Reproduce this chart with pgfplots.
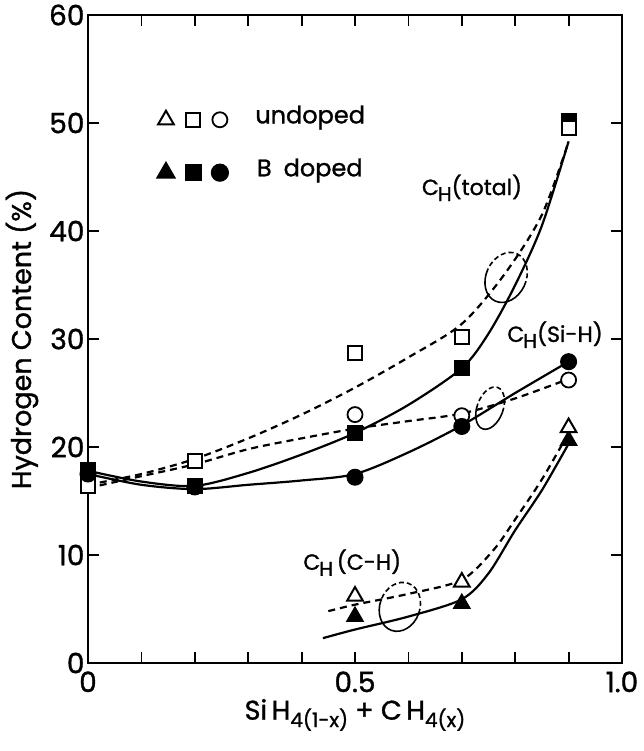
\documentclass[border=0pt]{standalone}
\usepackage{pgfplots}
\pgfplotsset{compat=1.18}
\usepackage{fontspec}
\setmainfont{Poppins}[FakeBold=1.2]
\newcommand{\sub}[1]{\raisebox{-0.5ex}{\fontsize{20}{20}\selectfont #1}}
\begin{document}
\begin{tikzpicture}
\begin{axis}[
  scale only axis, width=534pt, height=648pt,
  xmin=0, xmax=1, ymin=0, ymax=60,
  axis line style={line width=2.2pt},
  tick style={line width=1.8pt, black},
  tick align=inside,
  major tick length=11pt,
  xtick={0,0.1,0.2,0.3,0.4,0.5,0.6,0.7,0.8,0.9,1.0},
  xticklabels={0,,,,,0.5,,,,,1.0},
  ytick={0,10,20,30,40,50,60},
  ticklabel style={font=\fontsize{28}{30}\selectfont},
  xticklabel style={yshift=-5pt},
  /pgf/number format/assume math mode=true,
  xlabel={Si\,H\sub{4(1-x)} + C\,H\sub{4(x)}},
  ylabel={Hydrogen Content (\%)},
  xlabel style={font=\fontsize{27}{30}\selectfont, yshift=0pt},
  ylabel style={font=\fontsize{27}{30}\selectfont, yshift=4pt},
  clip=false,
  every axis plot/.append style={line width=2.2pt},
  dashpat/.style={dash pattern=on 7pt off 5pt},
]
% fit curves
\addplot[dashpat, smooth] coordinates {(0,16.5) (0.1,17.5) (0.2,18.9) (0.3,20.8) (0.4,23) (0.5,25.5) (0.6,28.3) (0.7,31.4) (0.78,36) (0.85,41.5) (0.9,48.3)};
\addplot[smooth] coordinates {(0,17.8) (0.1,16.8) (0.2,16.4) (0.3,17.6) (0.4,19.3) (0.5,21.3) (0.6,23.9) (0.7,27.3) (0.75,30.5) (0.8,35) (0.85,40.5) (0.9,48.3)};
\addplot[dashpat, smooth] coordinates {(0,16.2) (0.1,17.3) (0.2,18.4) (0.3,19.8) (0.4,20.8) (0.5,21.7) (0.6,22.4) (0.7,23.1) (0.8,24.5) (0.9,26.3)};
\addplot[smooth] coordinates {(0,17.5) (0.1,16.5) (0.2,16.1) (0.3,16.5) (0.4,16.9) (0.5,17.5) (0.6,19.5) (0.7,22) (0.8,25) (0.9,27.9)};
\addplot[dashpat, smooth] coordinates {(0.45,4.8) (0.5,5.4) (0.6,6.4) (0.7,7.7) (0.76,10.5) (0.8,13.3) (0.85,17) (0.9,21.3)};
\addplot[smooth] coordinates {(0.44,2.3) (0.5,3.1) (0.6,4.3) (0.7,5.9) (0.75,8.3) (0.8,12.3) (0.85,16) (0.9,20.3)};
% data points
\addplot[only marks, mark=triangle*, mark size=9.5pt, mark options={fill=black, draw=black, line width=1.2pt}] coordinates {(0.5,4.3) (0.7,5.5) (0.9,20.6)};
\addplot[only marks, mark=triangle*, mark size=9pt, mark options={fill=white, draw=black, line width=2pt}] coordinates {(0.5,6.2) (0.7,7.5) (0.9,21.8)};
\addplot[only marks, mark=square*, mark size=7.5pt, mark options={fill=black, draw=black, line width=1pt}] coordinates {(0,17.9) (0.2,16.4) (0.5,21.3) (0.7,27.3) (0.9,50.2)};
\addplot[only marks, mark=square*, mark size=7pt, mark options={fill=white, draw=black, line width=1.8pt}] coordinates {(0,16.4) (0.2,18.7) (0.5,28.7) (0.7,30.2) (0.9,49.5)};
\addplot[only marks, mark=*, mark size=7.5pt, mark options={fill=white, draw=black, line width=1.8pt}] coordinates {(0.5,23.0) (0.7,22.9) (0.9,26.2)};
\addplot[only marks, mark=*, mark size=8pt, mark options={fill=black, draw=black, line width=1pt}] coordinates {(0,17.5) (0.2,16.3) (0.5,17.2) (0.7,21.9) (0.9,27.9)};
% legend symbols
\addplot[only marks, mark=triangle*, mark size=9pt, mark options={fill=white, draw=black, line width=2pt}] coordinates {(0.146,50.3)};
\addplot[only marks, mark=square*, mark size=7pt, mark options={fill=white, draw=black, line width=1.8pt}] coordinates {(0.197,50.3)};
\addplot[only marks, mark=*, mark size=7.5pt, mark options={fill=white, draw=black, line width=1.8pt}] coordinates {(0.247,50.3)};
\addplot[only marks, mark=triangle*, mark size=9.5pt, mark options={fill=black, draw=black}] coordinates {(0.146,45.4)};
\addplot[only marks, mark=square*, mark size=7.5pt, mark options={fill=black, draw=black}] coordinates {(0.197,45.4)};
\addplot[only marks, mark=*, mark size=8pt, mark options={fill=black, draw=black}] coordinates {(0.247,45.4)};
\node[anchor=west, font=\fontsize{24}{26}\selectfont, inner sep=0pt] at (axis cs:0.313,50.5) {undoped};
\node[anchor=west, font=\fontsize{24}{26}\selectfont, inner sep=0pt] at (axis cs:0.316,45.6) {B\hspace{0.5em}doped};
% curve labels
\node[anchor=west, font=\fontsize{22}{24}\selectfont, inner sep=0pt] at (axis cs:0.625,44) {C\hspace{-0.05em}\sub{H}(total)};
\node[anchor=west, font=\fontsize{22}{24}\selectfont, inner sep=0pt] at (axis cs:0.785,30.4) {C\hspace{-0.05em}\sub{H}(Si-H)};
\node[anchor=west, font=\fontsize{22}{24}\selectfont, inner sep=0pt] at (axis cs:0.403,9.3) {C\hspace{-0.05em}\sub{H}\,(C-H)};
% loops
\begin{scope}[shift={(axis cs:0.783,35.7)}, rotate=-25]
\draw[line width=1.6pt, dash pattern=on 5pt off 3pt] (20pt,0) arc[start angle=0, end angle=180, x radius=20pt, y radius=26pt];
\draw[line width=1.6pt] (-20pt,0) arc[start angle=180, end angle=360, x radius=20pt, y radius=26pt];
\end{scope}
\begin{scope}[shift={(axis cs:0.753,23.6)}, rotate=-20]
\draw[line width=1.6pt, dash pattern=on 5pt off 3pt] (13pt,0) arc[start angle=0, end angle=180, x radius=13pt, y radius=22pt];
\draw[line width=1.6pt] (-13pt,0) arc[start angle=180, end angle=360, x radius=13pt, y radius=22pt];
\end{scope}
\begin{scope}[shift={(axis cs:0.584,5.2)}, rotate=-20]
\draw[line width=1.6pt, dash pattern=on 5pt off 3pt] (20pt,0) arc[start angle=0, end angle=180, x radius=20pt, y radius=25pt];
\draw[line width=1.6pt] (-20pt,0) arc[start angle=180, end angle=360, x radius=20pt, y radius=25pt];
\end{scope}
\end{axis}
\pgfresetboundingbox
\path[use as bounding box] ([xshift=-88pt,yshift=-88pt]current axis.south west) rectangle ([xshift=21pt,yshift=15pt]current axis.north east);
\end{tikzpicture}
\end{document}
